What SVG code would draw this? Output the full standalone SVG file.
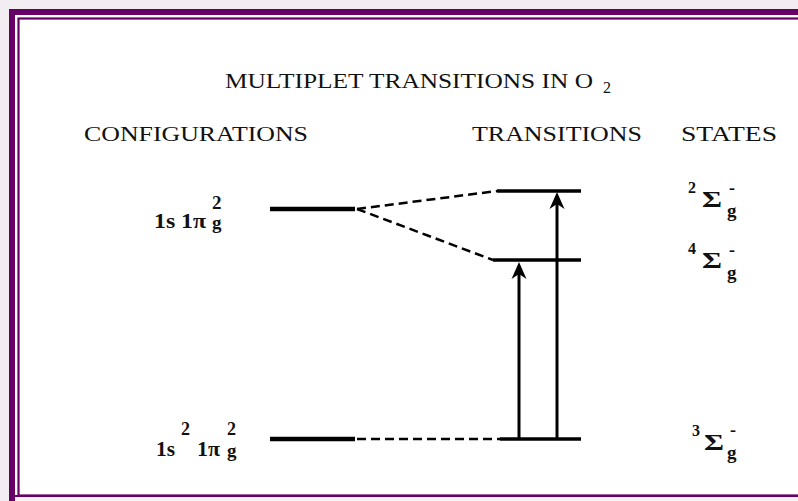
<svg xmlns="http://www.w3.org/2000/svg" width="798" height="501" viewBox="0 0 798 501">
<style>
.t{font-family:"Liberation Serif","Times New Roman",serif;fill:#111}
.b{font-family:"Liberation Serif","Times New Roman",serif;font-weight:bold;fill:#111}
.lvl{stroke:#000;stroke-width:3.5;fill:none}
.lvlL{stroke:#000;stroke-width:4.5;fill:none}
.dash{stroke:#000;stroke-width:2.5;fill:none;stroke-dasharray:9 5}
.arrow{stroke:#000;stroke-width:3;fill:none;marker-end:url(#arr)}
</style>
<defs>
<marker id="arr" markerUnits="userSpaceOnUse" markerWidth="18" markerHeight="18" viewBox="0 0 18 18" refX="13" refY="9" orient="auto">
<path d="M0,1.5 L17,9 L0,16.5 L5,9 Z" fill="#000"/>
</marker>
</defs>
<g id="frame">
<rect x="0" y="0" width="798" height="501" fill="#f1edf1"/>
<rect x="9" y="9" width="800" height="500" fill="#660066"/>
<rect x="15" y="15" width="800" height="480" fill="#ffffff"/>
<rect x="15" y="497" width="800" height="10" fill="#f6f2f6"/>
<rect x="18.5" y="18.5" width="800" height="477" fill="none" stroke="#660066" stroke-width="2.2"/>
<rect x="20" y="20" width="790" height="474" fill="#ffffff"/>
</g>
<g id="title">
<text class="t" x="225" y="88" font-size="21" textLength="368" lengthAdjust="spacingAndGlyphs">MULTIPLET TRANSITIONS IN O</text>
<text class="t" x="603" y="93" font-size="16">2</text>
</g>
<g id="headers">
<text class="t" x="84" y="141" font-size="20" textLength="224" lengthAdjust="spacingAndGlyphs">CONFIGURATIONS</text>
<text class="t" x="472" y="141" font-size="20" textLength="170" lengthAdjust="spacingAndGlyphs">TRANSITIONS</text>
<text class="t" x="681" y="141" font-size="20" textLength="96" lengthAdjust="spacingAndGlyphs">STATES</text>
</g>
<g id="config-upper">
<text class="b" x="154" y="228" font-size="21" textLength="52" lengthAdjust="spacingAndGlyphs">1s 1π</text>
<text class="b" x="212" y="209" font-size="19">2</text>
<text class="b" x="212" y="229" font-size="19">g</text>
<line class="lvlL" x1="270" y1="209" x2="355" y2="209"/>
</g>
<g id="config-lower">
<text class="b" x="156" y="456" font-size="21" textLength="19" lengthAdjust="spacingAndGlyphs">1s</text>
<text class="b" x="181" y="435" font-size="18">2</text>
<text class="b" x="197" y="456" font-size="21" textLength="23" lengthAdjust="spacingAndGlyphs">1π</text>
<text class="b" x="227" y="435" font-size="18">2</text>
<text class="b" x="227" y="457" font-size="19">g</text>
<line class="lvlL" x1="270" y1="439" x2="355" y2="439"/>
</g>
<g id="state-2Sigma">
<text class="b" x="688" y="193" font-size="16">2</text>
<text class="b" x="702" y="207" font-size="24" textLength="20" lengthAdjust="spacingAndGlyphs">Σ</text>
<text class="b" x="729" y="194" font-size="18">-</text>
<text class="b" x="727" y="217" font-size="19">g</text>
<line class="lvl" x1="497" y1="191" x2="581" y2="191"/>
</g>
<g id="state-4Sigma">
<text class="b" x="688" y="254" font-size="16">4</text>
<text class="b" x="702" y="268" font-size="24" textLength="20" lengthAdjust="spacingAndGlyphs">Σ</text>
<text class="b" x="729" y="256" font-size="18">-</text>
<text class="b" x="727" y="279" font-size="19">g</text>
<line class="lvl" x1="493" y1="260" x2="581" y2="260"/>
</g>
<g id="state-3Sigma">
<text class="b" x="692" y="436" font-size="16">3</text>
<text class="b" x="704" y="450" font-size="24" textLength="20" lengthAdjust="spacingAndGlyphs">Σ</text>
<text class="b" x="730" y="436" font-size="18">-</text>
<text class="b" x="727" y="459" font-size="19">g</text>
<line class="lvl" x1="500" y1="439" x2="581" y2="439"/>
</g>
<g id="connectors">
<line class="dash" x1="357" y1="209" x2="497" y2="191"/>
<line class="dash" x1="357" y1="209" x2="493" y2="260"/>
<line class="dash" x1="357" y1="439" x2="500" y2="439" stroke-dasharray="8 4"/>
<line class="arrow" x1="519" y1="439" x2="519" y2="266"/>
<line class="arrow" x1="557" y1="439" x2="557" y2="196"/>
</g>
</svg>
